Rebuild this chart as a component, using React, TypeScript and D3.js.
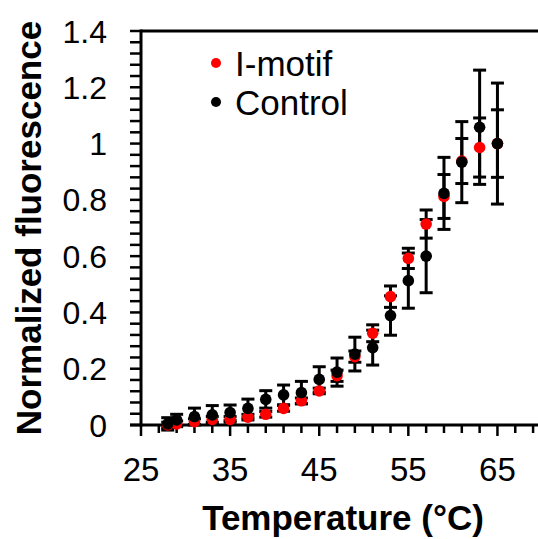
import React, { useRef, useEffect } from "react";
import * as d3 from "d3";

const temps = [28, 29, 31, 33, 35, 37, 39, 41, 43, 45, 47, 49, 51, 53, 55, 57, 59, 61, 63, 65];
const imotif = [0.0, 0.004, 0.012, 0.02, 0.02, 0.028, 0.038, 0.059, 0.086, 0.121, 0.175, 0.243, 0.326, 0.456, 0.592, 0.714, 0.812, 0.938, 0.986, 1.0];
const imotifErr = [0.01, 0.01, 0.01, 0.01, 0.01, 0.01, 0.01, 0.01, 0.01, 0.01, 0.02, 0.02, 0.03, 0.038, 0.036, 0.05, 0.078, 0.08, 0.105, 0.12];
const control = [0.004, 0.018, 0.03, 0.036, 0.044, 0.059, 0.091, 0.107, 0.115, 0.162, 0.188, 0.252, 0.275, 0.389, 0.513, 0.6, 0.823, 0.934, 1.058, 1.0];
const controlErr = [0.022, 0.02, 0.03, 0.033, 0.027, 0.033, 0.031, 0.035, 0.04, 0.045, 0.05, 0.06, 0.062, 0.07, 0.098, 0.13, 0.128, 0.144, 0.203, 0.215];
const xTicks = [25, 35, 45, 55, 65];
const yTicks = [0, 0.2, 0.4, 0.6, 0.8, 1, 1.2, 1.4];
const seriesNames = ["I-motif", "Control"];
const seriesColors = ["#ff0000", "#000000"];

const W = 538;
const H = 539;
const FONT = "'Liberation Sans', Arial, sans-serif";

const App: React.FC = () => {
    const ref = useRef<SVGSVGElement | null>(null);

    useEffect(() => {
        if (!ref.current) return;
        const svg = d3.select(ref.current);
        svg.selectAll("*").remove();

        const x = d3.scaleLinear().domain([25, 70]).range([141, 542]);
        const y = d3.scaleLinear().domain([0, 1.4]).range([425, 31]);

        // frame: top line
        svg.append("line")
            .attr("x1", x(25)).attr("x2", x(70))
            .attr("y1", y(1.4)).attr("y2", y(1.4))
            .attr("stroke", "#000").attr("stroke-width", 3);

        // y axis minor ticks every 0.04
        const yMinor = d3.range(0, 36).map(i => i * 0.04);
        svg.append("g")
            .selectAll("line")
            .data(yMinor)
            .enter()
            .append("line")
            .attr("x1", x(25) - 11).attr("x2", x(25))
            .attr("y1", d => y(d)).attr("y2", d => y(d))
            .attr("stroke", "#000").attr("stroke-width", 2.5);

        // x axis minor ticks every 2
        const xMinor = d3.range(0, 23).map(i => 25 + i * 2);
        svg.append("g")
            .selectAll("line")
            .data(xMinor)
            .enter()
            .append("line")
            .attr("x1", d => x(d)).attr("x2", d => x(d))
            .attr("y1", y(0)).attr("y2", d => y(0) + ((d - 25) % 10 === 0 ? 11 : 8))
            .attr("stroke", "#000").attr("stroke-width", 2.5);

        // axis lines
        svg.append("line")
            .attr("x1", x(25)).attr("x2", x(25))
            .attr("y1", y(1.4) - 1.5).attr("y2", y(0) + 1.5)
            .attr("stroke", "#000").attr("stroke-width", 3);
        svg.append("line")
            .attr("x1", x(25) - 11).attr("x2", x(70))
            .attr("y1", y(0)).attr("y2", y(0))
            .attr("stroke", "#000").attr("stroke-width", 3);

        // tick labels
        svg.append("g")
            .selectAll("text")
            .data(yTicks)
            .enter()
            .append("text")
            .attr("x", 107)
            .attr("y", d => y(d))
            .attr("dy", "0.36em")
            .attr("text-anchor", "end")
            .attr("font-family", FONT)
            .attr("font-size", 32)
            .text(d => d3.format("~g")(d));

        svg.append("g")
            .selectAll("text")
            .data(xTicks)
            .enter()
            .append("text")
            .attr("x", d => x(d))
            .attr("y", 481)
            .attr("text-anchor", "middle")
            .attr("font-family", FONT)
            .attr("font-size", 33)
            .text(d => d);

        // axis titles
        svg.append("text")
            .attr("x", 343)
            .attr("y", 530)
            .attr("text-anchor", "middle")
            .attr("font-family", FONT)
            .attr("font-weight", "bold")
            .attr("font-size", 35)
            .text("Temperature (°C)");

        svg.append("text")
            .attr("transform", `translate(41,228) rotate(-90)`)
            .attr("text-anchor", "middle")
            .attr("font-family", FONT)
            .attr("font-weight", "bold")
            .attr("font-size", 35)
            .text("Normalized fluorescence");

        // error bars (drawn under markers)
        const errGroup = svg.append("g").attr("stroke", "#000").attr("stroke-width", 3);
        const drawErr = (vals: number[], errs: number[]) => {
            temps.forEach((t, i) => {
                const cx = x(t);
                const lo = y(vals[i] - errs[i]);
                const hi = y(vals[i] + errs[i]);
                errGroup.append("line").attr("x1", cx).attr("x2", cx).attr("y1", lo).attr("y2", hi);
                errGroup.append("line").attr("x1", cx - 6.5).attr("x2", cx + 6.5).attr("y1", lo).attr("y2", lo);
                errGroup.append("line").attr("x1", cx - 6.5).attr("x2", cx + 6.5).attr("y1", hi).attr("y2", hi);
            });
        };
        drawErr(imotif, imotifErr);
        drawErr(control, controlErr);

        // markers
        [imotif, control].forEach((vals, s) => {
            svg.append("g")
                .selectAll("circle")
                .data(vals)
                .enter()
                .append("circle")
                .attr("cx", (_, i) => x(temps[i]))
                .attr("cy", d => y(d))
                .attr("r", 5.8)
                .attr("fill", seriesColors[s]);
        });

        // legend
        const legend = svg.append("g");
        seriesNames.forEach((name, i) => {
            const ly = 63 + i * 39;
            legend.append("circle")
                .attr("cx", 216).attr("cy", ly).attr("r", 5)
                .attr("fill", seriesColors[i]);
            legend.append("text")
                .attr("x", 235).attr("y", ly)
                .attr("dy", "0.36em")
                .attr("font-family", FONT)
                .attr("font-size", 35)
                .text(name);
        });
    }, []);

    return (
        <svg
            ref={ref}
            width={W}
            height={H}
            style={{ position: "absolute", left: 0, top: 0, background: "#fff" }}
        />
    );
};

export default App;
